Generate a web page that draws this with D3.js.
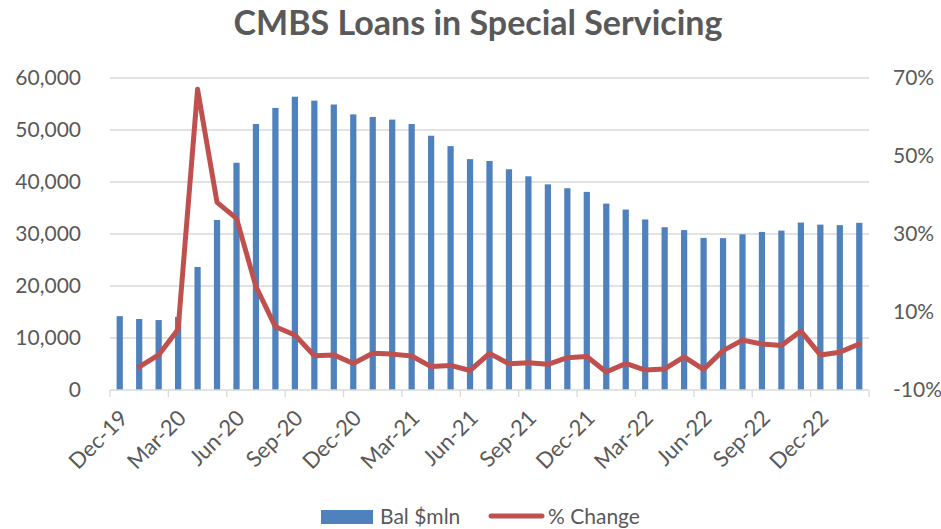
<!DOCTYPE html>
<html>
<head>
<meta charset="utf-8">
<script src="https://cdn.jsdelivr.net/npm/d3@7"></script>
<style>
  html, body { margin: 0; padding: 0; background: #fff; }
  svg { display: block; font-family: Lato, "Open Sans", sans-serif; }
</style>
</head>
<body>
<svg id="chart" width="941" height="529"></svg>
<script>
const months = ["Dec-19","Jan-20","Feb-20","Mar-20","Apr-20","May-20","Jun-20","Jul-20","Aug-20","Sep-20","Oct-20","Nov-20",
  "Dec-20","Jan-21","Feb-21","Mar-21","Apr-21","May-21","Jun-21","Jul-21","Aug-21","Sep-21","Oct-21","Nov-21",
  "Dec-21","Jan-22","Feb-22","Mar-22","Apr-22","May-22","Jun-22","Jul-22","Aug-22","Sep-22","Oct-22","Nov-22",
  "Dec-22","Jan-23","Feb-23"];
const balance = [14200,13650,13450,14050,23650,32700,43700,51150,54250,56400,55650,54900,
  53000,52500,52000,51150,48900,46900,44400,44050,42450,41100,39550,38800,
  38100,35850,34700,32800,31300,30750,29250,29200,29950,30400,30650,32200,
  31800,31700,32150];
const pctChange = [null,-4.1,-1.0,5.6,67.1,38.1,34.0,16.5,6.2,4.1,-1.2,-1.0,
  -3.2,-0.6,-0.8,-1.3,-4.0,-3.7,-5.0,-0.6,-3.3,-3.0,-3.4,-1.7,
  -1.4,-5.4,-3.2,-4.9,-4.6,-1.5,-4.7,0.1,2.8,1.8,1.4,5.1,
  -1.0,-0.3,1.8];
const leftTicks = [0,10000,20000,30000,40000,50000,60000];
const rightTicks = [-10,10,30,50,70];
const tickLabelMonths = months.filter((m, i) => i % 3 === 0);

(function () {
const svg = d3.select("#chart");
const pL = 110, pR = 869, pT = 78, pB = 390;
const textCol = "#595959", gridCol = "#D9D9D9";

const x = d3.scaleBand().domain(months).range([pL, pR]).paddingInner(0.68).paddingOuter(0.34);
const yL = d3.scaleLinear().domain([0, 60000]).range([pB, pT]);
const yR = d3.scaleLinear().domain([-10, 70]).range([pB, pT]);
const center = m => x(m) + x.bandwidth() / 2;
const boundary = m => center(m) - x.step() / 2;

// title
svg.append("text").attr("x", 478).attr("y", 35).attr("text-anchor", "middle")
  .attr("font-size", 34).attr("font-weight", "bold").attr("fill", textCol)
  .text("CMBS Loans in Special Servicing");

// gridlines
svg.append("g").selectAll("line").data(leftTicks.filter(d => d > 0)).join("line")
  .attr("x1", pL).attr("x2", pR).attr("y1", d => yL(d)).attr("y2", d => yL(d))
  .attr("stroke", gridCol).attr("stroke-width", 1.3);

// left axis labels
const fmt = d3.format(",");
const gL = svg.append("g").attr("transform", `translate(${pL},0)`)
  .call(d3.axisLeft(yL).tickValues(leftTicks).tickFormat(fmt).tickSize(0).tickPadding(29));
gL.select(".domain").remove();
gL.selectAll("text").attr("font-size", 21).attr("fill", textCol).attr("font-family", "Lato, sans-serif");

// right axis labels
const gR = svg.append("g").attr("transform", `translate(${pR},0)`)
  .call(d3.axisRight(yR).tickValues(rightTicks).tickFormat(d => d + "%").tickSize(0).tickPadding(24));
gR.select(".domain").remove();
gR.selectAll("text").attr("font-size", 21).attr("fill", textCol).attr("font-family", "Lato, sans-serif");

// bars
svg.append("g").selectAll("rect").data(months).join("rect")
  .attr("x", d => x(d)).attr("width", x.bandwidth())
  .attr("y", (d, i) => yL(balance[i])).attr("height", (d, i) => yL(0) - yL(balance[i]))
  .attr("fill", "#4F81BD");

// x axis baseline and ticks
svg.append("line").attr("x1", pL).attr("x2", pR).attr("y1", pB).attr("y2", pB)
  .attr("stroke", gridCol).attr("stroke-width", 1.3);
const tickPos = tickLabelMonths.map(boundary).concat([pR]);
svg.append("g").selectAll("line").data(tickPos).join("line")
  .attr("x1", d => d).attr("x2", d => d).attr("y1", pB).attr("y2", pB + 7)
  .attr("stroke", gridCol).attr("stroke-width", 1.3);

// x labels
svg.append("g").selectAll("text").data(tickLabelMonths).join("text")
  .attr("transform", d => `translate(${center(d) + 4},${pB + 24}) rotate(-45)`)
  .attr("text-anchor", "end").attr("font-size", 22).attr("fill", textCol)
  .attr("dy", "0.35em")
  .text(d => d);

// line
const line = d3.line().defined(d => d.v !== null).x(d => center(d.m)).y(d => yR(d.v));
svg.append("path").datum(months.map((m, i) => ({m, v: pctChange[i]})))
  .attr("d", line).attr("fill", "none").attr("stroke", "#C0504D")
  .attr("stroke-width", 5).attr("stroke-linejoin", "round").attr("stroke-linecap", "round");

// legend
const lg = svg.append("g");
lg.append("rect").attr("x", 321).attr("y", 510).attr("width", 52).attr("height", 14).attr("fill", "#4F81BD");
lg.append("text").attr("x", 380).attr("y", 524).attr("font-size", 21).attr("fill", textCol).text("Bal $mln");
lg.append("line").attr("x1", 491).attr("x2", 542).attr("y1", 516).attr("y2", 516)
  .attr("stroke", "#C0504D").attr("stroke-width", 5).attr("stroke-linecap", "round");
lg.append("text").attr("x", 548).attr("y", 524).attr("font-size", 21).attr("fill", textCol).text("% Change");
})();
</script>
</body>
</html>
